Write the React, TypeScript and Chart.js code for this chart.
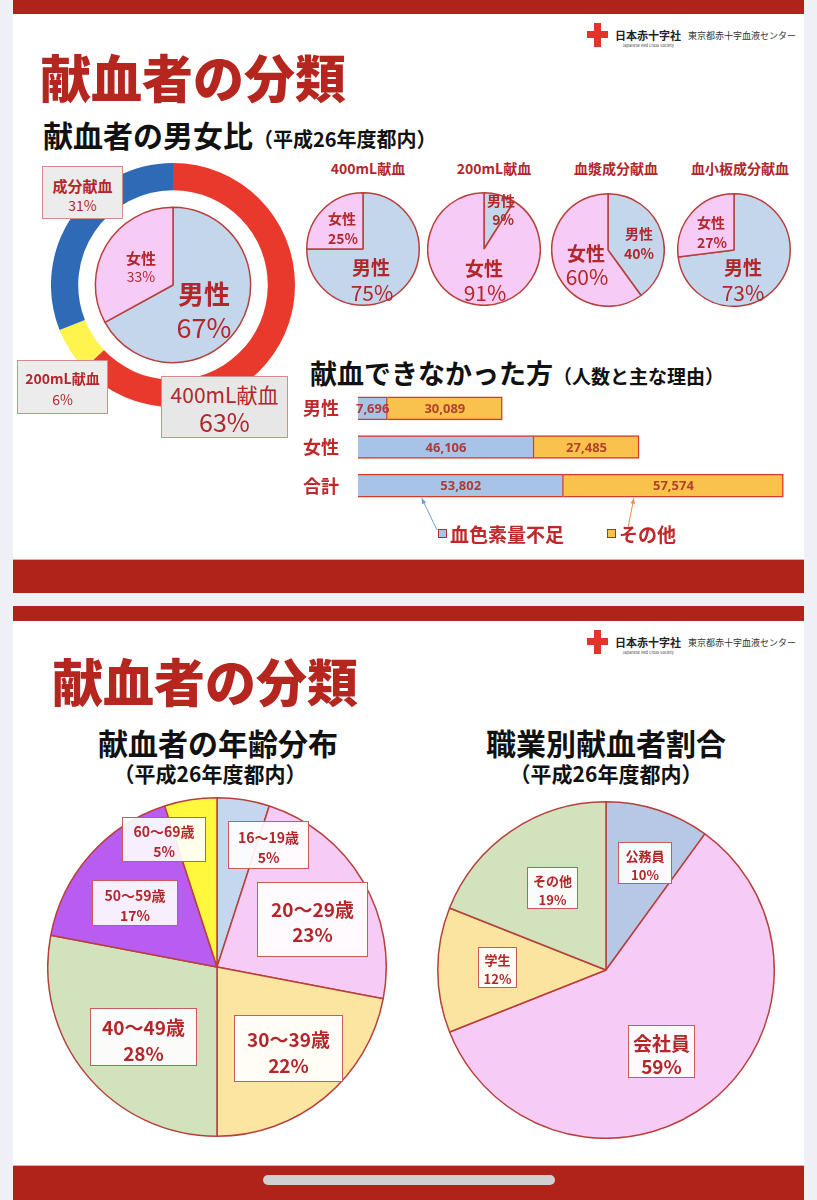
import React, { useEffect, useRef } from "react";
import { Chart, registerables } from "chart.js";

Chart.register(...registerables);

const FF = '"Noto Sans CJK JP", "Noto Sans", sans-serif';
const RED_TEXT = "#b3262a";
const TITLE_RED = "#b5261e";
const SLICE_BORDER = "#b8403c";

// ---------------- data ----------------
const ringLabels = ["400mL献血", "200mL献血", "成分献血"];
const ringValues = [63, 6, 31];
const sexLabels = ["男性", "女性"];
const sexValues = [67, 33];

const smallPieTitles = ["400mL献血", "200mL献血", "血漿成分献血", "血小板成分献血"];
const smallPieMale = [75, 9, 40, 73];
const smallPieFemale = [25, 91, 60, 27];

const deferCategories = ["男性", "女性", "合計"];
const deferSeries = ["血色素量不足", "その他"];
const deferHemoglobin = [7696, 46106, 53802];
const deferOther = [30089, 27485, 57574];

const ageLabels = ["16～19歳", "20～29歳", "30～39歳", "40～49歳", "50～59歳", "60～69歳"];
const ageValues = [5, 23, 22, 28, 17, 5];

const jobLabels = ["公務員", "会社員", "学生", "その他"];
const jobValues = [10, 59, 12, 19];

// ---------------- styles ----------------
const ringColors = ["#e8392c", "#fff34d", "#2f6ab6"];
const MALE_C = "#c3d6ec";
const FEMALE_C = "#f6cbf6";
const ageColors = ["#c5d7ee", "#f6cbf6", "#fce5a0", "#d2e2bd", "#b85cf2", "#fff83c"];
const jobColors = ["#b7c7e6", "#f6cbf6", "#fbe4a0", "#d2e2bd"];
const BAR_BLUE = "#a7c4e8";
const BAR_ORANGE = "#f9c24c";

const baseOpts: any = {
  responsive: false,
  animation: false,
  events: [],
  plugins: { legend: { display: false }, tooltip: { enabled: false } },
  layout: { padding: 0 },
};

function ChartCanvas({ left, top, width, height, make }: any) {
  const ref = useRef<HTMLCanvasElement | null>(null);
  useEffect(() => {
    if (!ref.current) return;
    const chart = new Chart(ref.current, make());
    return () => chart.destroy();
  }, []);
  return (
    <canvas
      ref={ref}
      width={width}
      height={height}
      style={{ position: "absolute", left, top, width, height, display: "block" }}
    />
  );
}

function Txt({ x, y, size, bold = true, weight, color = RED_TEXT, anchor = "center", children }: any) {
  const tx = anchor === "left" ? "0" : "-50%";
  return (
    <div
      style={{
        position: "absolute",
        left: x,
        top: y,
        transform: `translate(${tx}, -50%)`,
        fontSize: size,
        fontWeight: weight ?? (bold ? 700 : 400),
        color,
        lineHeight: 1,
        whiteSpace: "nowrap",
        fontFamily: FF,
      }}
    >
      {children}
    </div>
  );
}

function Box({ l, t, w, h, bg = "rgba(255,255,255,0.9)", border = "#c95b5b" }: any) {
  return (
    <div
      style={{
        position: "absolute",
        left: l,
        top: t,
        width: w,
        height: h,
        background: bg,
        border: `1.5px solid ${border}`,
        boxSizing: "border-box",
      }}
    />
  );
}

function pieConfig(labels: string[], values: number[], colors: string[]) {
  return {
    type: "pie",
    data: {
      labels,
      datasets: [
        {
          data: values,
          backgroundColor: colors,
          borderColor: SLICE_BORDER,
          borderWidth: 1.5,
        },
      ],
    },
    options: { ...baseOpts },
  };
}

function donutConfig() {
  return {
    type: "doughnut",
    data: {
      labels: ringLabels,
      datasets: [
        { data: ringValues, backgroundColor: ringColors, borderWidth: 0, weight: 27 },
        { data: [1], backgroundColor: ["rgba(0,0,0,0)"], borderWidth: 0, weight: 17 },
        {
          data: sexValues,
          backgroundColor: [MALE_C, FEMALE_C],
          borderColor: SLICE_BORDER,
          borderWidth: 1.5,
          weight: 77,
        },
      ],
    },
    options: { ...baseOpts, cutout: 0 },
  };
}

const barPlugin = {
  id: "barDeco",
  afterDatasetsDraw(chart: any) {
    const ctx = chart.ctx;
    const yScale = chart.scales.y;
    ctx.save();
    // row labels
    ctx.font = `bold 18px ${FF}`;
    ctx.fillStyle = "#c0282a";
    ctx.textAlign = "left";
    ctx.textBaseline = "middle";
    deferCategories.forEach((c, i) => {
      ctx.fillText(c, 0, yScale.getPixelForValue(i));
    });
    // value labels
    ctx.font = `bold 13px "Noto Sans", "DejaVu Sans", sans-serif`;
    ctx.textAlign = "center";
    chart.data.datasets.forEach((ds: any, di: number) => {
      const meta = chart.getDatasetMeta(di);
      meta.data.forEach((el: any, i: number) => {
        const p = el.getProps(["x", "base", "y"], true);
        ctx.fillStyle = di === 0 ? "#b03a3a" : "#b5432a";
        ctx.fillText(Number(ds.data[i]).toLocaleString("en-US"), (p.x + p.base) / 2, p.y + 1);
      });
    });
    // arrows from total bars to legend
    const ends = [
      { frac: 0.31, ex: 134, ey: 141, color: "#6d9fd6" },
      { frac: 0.32, ex: 325, ey: 139, color: "#ee8a55" },
    ];
    ends.forEach((a, di) => {
      const meta = chart.getDatasetMeta(di);
      const el = meta.data[2];
      const p = el.getProps(["x", "base", "y", "height"], true);
      const sx = p.base + a.frac * (p.x - p.base);
      const sy = p.y + p.height / 2 + 1;
      ctx.strokeStyle = a.color;
      ctx.fillStyle = a.color;
      ctx.lineWidth = 1;
      ctx.beginPath();
      ctx.moveTo(a.ex, a.ey);
      ctx.lineTo(sx, sy);
      ctx.stroke();
      const ang = Math.atan2(sy - a.ey, sx - a.ex);
      ctx.beginPath();
      ctx.moveTo(sx, sy);
      ctx.lineTo(sx - 6 * Math.cos(ang - 0.4), sy - 6 * Math.sin(ang - 0.4));
      ctx.lineTo(sx - 6 * Math.cos(ang + 0.4), sy - 6 * Math.sin(ang + 0.4));
      ctx.closePath();
      ctx.fill();
    });
    ctx.restore();
  },
};

function barConfig() {
  return {
    type: "bar",
    data: {
      labels: deferCategories,
      datasets: [
        {
          label: deferSeries[0],
          data: deferHemoglobin,
          backgroundColor: BAR_BLUE,
          borderColor: "#d53a2c",
          borderWidth: 1.5,
          barThickness: 23,
        },
        {
          label: deferSeries[1],
          data: deferOther,
          backgroundColor: BAR_ORANGE,
          borderColor: "#d53a2c",
          borderWidth: 1.5,
          barThickness: 23,
        },
      ],
    },
    options: {
      ...baseOpts,
      indexAxis: "y",
      layout: { padding: { left: 55, right: 0, top: 0, bottom: 40 } },
      scales: {
        x: { stacked: true, min: 0, max: 116000, display: false },
        y: { stacked: true, display: false },
      },
    },
    plugins: [barPlugin],
  };
}

function Logo({ top }: { top: number }) {
  return (
    <>
      <div style={{ position: "absolute", left: 594, top: top, width: 7, height: 24, background: "#e3342a" }} />
      <div style={{ position: "absolute", left: 587, top: top + 8, width: 21, height: 7, background: "#e3342a" }} />
      <Txt x={648} y={top + 12} size={11} color="#222">日本赤十字社</Txt>
      <Txt x={648} y={top + 22} size={4} bold={false} color="#444">Japanese Red Cross Society</Txt>
      <Txt x={742} y={top + 12} size={9} bold={false} color="#333">東京都赤十字血液センター</Txt>
    </>
  );
}

const smallPieCenters = [
  [363, 249],
  [484, 249],
  [608, 250],
  [734, 250],
];
const smallPieTitleX = [368, 494, 616, 740];
// label positions: [nameX, nameY, pctX, pctY, nameSize, pctSize]
const smallPieMaleLbl = [
  [371, 266, 372, 292, 19, 21],
  [501, 200, 503, 219, 14, 14],
  [639, 233, 639, 253, 14, 14],
  [743, 266, 743, 292, 19, 21],
];
const smallPieFemaleLbl = [
  [342, 218, 343, 238, 14, 14],
  [484, 267, 485, 292, 19, 21],
  [586, 252, 587, 276, 19, 21],
  [711, 222, 712, 242, 14, 14],
];

const ringBoxes = [
  { l: 161, t: 376, w: 127, h: 62, y1: 394, y2: 421, s1: 21, s2: 25, bg: "#e7e7e8" },
  { l: 17, t: 360, w: 91, h: 54, y1: 378, y2: 399, s1: 14, s2: 14, bg: "#ececed" },
  { l: 42, t: 166, w: 81, h: 53, y1: 185, y2: 205, s1: 15, s2: 14, bg: "#ececed" },
];

const ageBoxes = [
  { l: 228, t: 821, w: 81, h: 48, y1: 837, y2: 857, s: 14 },
  { l: 257, t: 882, w: 111, h: 75, y1: 908, y2: 933, s: 19 },
  { l: 234, t: 1015, w: 109, h: 67, y1: 1038, y2: 1064, s: 19 },
  { l: 90, t: 1008, w: 107, h: 58, y1: 1026, y2: 1052, s: 19 },
  { l: 92, t: 880, w: 86, h: 46, y1: 895, y2: 915, s: 14 },
  { l: 122, t: 817, w: 84, h: 45, y1: 831, y2: 851, s: 14 },
];

const jobBoxes = [
  { l: 618, t: 842, w: 54, h: 42, y1: 855, y2: 874, s: 13 },
  { l: 628, t: 1025, w: 67, h: 53, y1: 1042, y2: 1065, s: 19 },
  { l: 478, t: 947, w: 39, h: 41, y1: 959, y2: 978, s: 13 },
  { l: 527, t: 867, w: 51, h: 42, y1: 880, y2: 899, s: 13 },
];

export default function App() {
  return (
    <div
      style={{
        position: "absolute",
        left: 0,
        top: 0,
        width: 817,
        height: 1200,
        overflow: "hidden",
        background: "#eef0f5",
        fontFamily: FF,
      }}
    >
      {/* slide 1 */}
      <div style={{ position: "absolute", left: 13, top: 0, width: 791, height: 593, background: "#fff" }} />
      <div style={{ position: "absolute", left: 13, top: 0, width: 791, height: 14, background: "#b0231a" }} />
      <div style={{ position: "absolute", left: 13, top: 559, width: 791, height: 1, background: "#e9a9a4" }} />
      <div style={{ position: "absolute", left: 13, top: 560, width: 791, height: 33, background: "#b0231a" }} />
      {/* slide 2 */}
      <div style={{ position: "absolute", left: 13, top: 606, width: 791, height: 594, background: "#fff" }} />
      <div style={{ position: "absolute", left: 13, top: 606, width: 791, height: 15, background: "#b0231a" }} />
      <div style={{ position: "absolute", left: 13, top: 1165, width: 791, height: 1, background: "#e9a9a4" }} />
      <div style={{ position: "absolute", left: 13, top: 1166, width: 791, height: 34, background: "#b0231a" }} />
      <div style={{ position: "absolute", left: 263, top: 1175, width: 292, height: 10, borderRadius: 5, background: "#d0d0d0" }} />

      <Logo top={23} />
      <Logo top={630} />

      <Txt x={193} y={76} size={51} weight={900} color={TITLE_RED}>献血者の分類</Txt>
      <Txt x={205} y={680} size={51} weight={900} color={TITLE_RED}>献血者の分類</Txt>

      <div
        style={{
          position: "absolute",
          left: 43,
          top: 116,
          whiteSpace: "nowrap",
          color: "#111",
          fontWeight: 700,
          lineHeight: 1.2,
          fontFamily: FF,
        }}
      >
        <span style={{ fontSize: 30 }}>献血者の男女比</span>
        <span style={{ fontSize: 20 }}>（平成26年度都内）</span>
      </div>

      {/* donut */}
      <ChartCanvas left={51} top={163} width={244} height={244} make={donutConfig} />
      {ringBoxes.map((b, i) => (
        <React.Fragment key={"rb" + i}>
          <Box l={b.l} t={b.t} w={b.w} h={b.h} bg={b.bg} border="#d88a8a" />
          <Txt x={b.l + b.w / 2} y={b.y1} size={b.s1} bold={i !== 0}>{ringLabels[i]}</Txt>
          <Txt x={b.l + b.w / 2} y={b.y2} size={b.s2} bold={false}>{ringValues[i]}%</Txt>
        </React.Fragment>
      ))}
      <Txt x={141} y={257} size={15}>{sexLabels[1]}</Txt>
      <Txt x={141} y={276} size={14} bold={false}>{sexValues[1]}%</Txt>
      <Txt x={204} y={293} size={26}>{sexLabels[0]}</Txt>
      <Txt x={204} y={326} size={27} bold={false}>{sexValues[0]}%</Txt>

      {/* small pies */}
      {smallPieTitles.map((t, i) => (
        <React.Fragment key={"sp" + i}>
          <Txt x={smallPieTitleX[i]} y={168} size={14}>{t}</Txt>
          <ChartCanvas
            left={smallPieCenters[i][0] - 57}
            top={smallPieCenters[i][1] - 57}
            width={114}
            height={114}
            make={() => pieConfig(sexLabels, [smallPieMale[i], smallPieFemale[i]], [MALE_C, FEMALE_C])}
          />
        </React.Fragment>
      ))}
      {smallPieTitles.map((t, i) => {
        const m = smallPieMaleLbl[i];
        const f = smallPieFemaleLbl[i];
        return (
          <React.Fragment key={"spl" + i}>
            <Txt x={m[0]} y={m[1]} size={m[4]}>{sexLabels[0]}</Txt>
            <Txt x={m[2]} y={m[3]} size={m[5]} bold={m[5] < 16}>{smallPieMale[i]}%</Txt>
            <Txt x={f[0]} y={f[1]} size={f[4]}>{sexLabels[1]}</Txt>
            <Txt x={f[2]} y={f[3]} size={f[5]} bold={f[5] < 16}>{smallPieFemale[i]}%</Txt>
          </React.Fragment>
        );
      })}

      {/* deferral bar chart */}
      <div
        style={{
          position: "absolute",
          left: 310,
          top: 357,
          whiteSpace: "nowrap",
          color: "#111",
          fontWeight: 700,
          lineHeight: 1.2,
          fontFamily: FF,
        }}
      >
        <span style={{ fontSize: 27 }}>献血できなかった方</span>
        <span style={{ fontSize: 19 }}>（人数と主な理由）</span>
      </div>
      <ChartCanvas left={303} top={389} width={498} height={156} make={barConfig} />
      <div style={{ position: "absolute", left: 438, top: 529, width: 9, height: 9, background: BAR_BLUE, border: "1px solid #c0282a", boxSizing: "border-box" }} />
      <Txt x={450} y={533} size={19} anchor="left" color="#c0282a">{deferSeries[0]}</Txt>
      <div style={{ position: "absolute", left: 607, top: 529, width: 9, height: 9, background: BAR_ORANGE, border: "1px solid #c0282a", boxSizing: "border-box" }} />
      <Txt x={619} y={533} size={19} anchor="left" color="#c0282a">{deferSeries[1]}</Txt>

      {/* slide 2 titles */}
      <Txt x={218} y={742} size={30} color="#111">献血者の年齢分布</Txt>
      <Txt x={210} y={773} size={21} color="#111">（平成26年度都内）</Txt>
      <Txt x={606} y={742} size={30} color="#111">職業別献血者割合</Txt>
      <Txt x={606} y={773} size={21} color="#111">（平成26年度都内）</Txt>

      <ChartCanvas left={47} top={797} width={340} height={340} make={() => pieConfig(ageLabels, ageValues, ageColors)} />
      <ChartCanvas left={437} top={801} width={338} height={338} make={() => pieConfig(jobLabels, jobValues, jobColors)} />

      {ageBoxes.map((b, i) => (
        <React.Fragment key={"ab" + i}>
          <Box l={b.l} t={b.t} w={b.w} h={b.h} />
          <Txt x={b.l + b.w / 2} y={b.y1} size={b.s}>{ageLabels[i]}</Txt>
          <Txt x={b.l + b.w / 2} y={b.y2} size={b.s}>{ageValues[i]}%</Txt>
        </React.Fragment>
      ))}
      {jobBoxes.map((b, i) => (
        <React.Fragment key={"jb" + i}>
          <Box l={b.l} t={b.t} w={b.w} h={b.h} />
          <Txt x={b.l + b.w / 2} y={b.y1} size={b.s}>{jobLabels[i]}</Txt>
          <Txt x={b.l + b.w / 2} y={b.y2} size={b.s}>{jobValues[i]}%</Txt>
        </React.Fragment>
      ))}
    </div>
  );
}
